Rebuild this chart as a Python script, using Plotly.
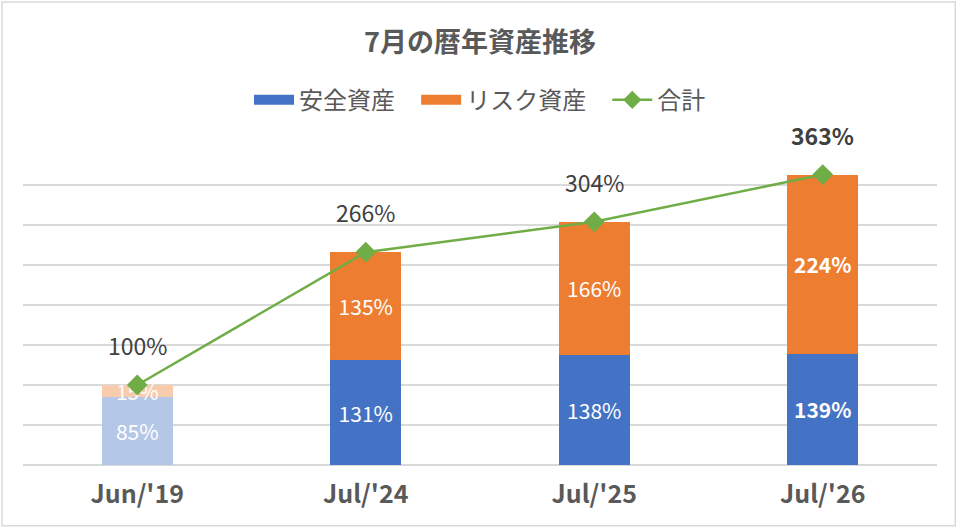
import plotly.graph_objects as go

categories = ["Jun/'19", "Jul/'24", "Jul/'25", "Jul/'26"]
safe = [85, 131, 138, 139]
risk = [15, 135, 166, 224]
total = [100, 266, 304, 363]
bold_safe = [False, False, False, True]
bold_risk = [False, False, False, True]
bold_total = [False, False, False, True]

font = "Noto Sans CJK JP"
gray = "#595959"
pad = "\u00a0\u00a0\u00a0"

def lbl(v, b):
    s = f"{v}%"
    return f"<b>{s}</b>" if b else s

fig = go.Figure()

fig.add_trace(go.Bar(
    x=categories, y=safe, name="安全資産", showlegend=False,
    marker=dict(color=["#B4C7E7", "#4472C4", "#4472C4", "#4472C4"], line_width=0),
    text=[lbl(v, b) for v, b in zip(safe, bold_safe)],
    textposition="inside", insidetextanchor="middle", constraintext="none",
    textfont=dict(color="white", size=21, family=font),
    hoverinfo="skip",
))
fig.add_trace(go.Bar(
    x=categories, y=risk, name="リスク資産", showlegend=False,
    marker=dict(color=["#F8CBAD", "#ED7D31", "#ED7D31", "#ED7D31"], line_width=0),
    text=[lbl(v, b) for v, b in zip(risk, bold_risk)],
    textposition="inside", insidetextanchor="middle", constraintext="none",
    textfont=dict(color="white", size=21, family=font),
    hoverinfo="skip",
))
fig.add_trace(go.Scatter(
    x=categories, y=total, name="合計", mode="lines+markers",
    line=dict(color="#70AD47", width=2.5),
    marker=dict(symbol="diamond", size=16, color="#70AD47"),
    showlegend=False,
))

# legend entries
fig.add_trace(go.Scatter(x=[None], y=[None], mode="lines", name="安全資産" + pad,
                         line=dict(color="#4472C4", width=11)))
fig.add_trace(go.Scatter(x=[None], y=[None], mode="lines", name="リスク資産" + pad,
                         line=dict(color="#ED7D31", width=11)))
fig.add_trace(go.Scatter(x=[None], y=[None], mode="lines+markers", name="合計",
                         line=dict(color="#70AD47", width=2.5),
                         marker=dict(symbol="diamond", size=14, color="#70AD47")))

for c, t, b in zip(categories, total, bold_total):
    fig.add_annotation(x=c, y=t, text=lbl(t, b), showarrow=False, yshift=40,
                       font=dict(size=23, color="#404040", family=font))

fig.add_shape(type="rect", xref="paper", yref="paper",
              x0=-0.023, x1=1.02, y0=-0.19, y1=1.447,
              line=dict(color="#D9D9D9", width=1.5), layer="below")

fig.update_layout(
    width=960, height=527,
    margin=dict(l=23, r=23, t=145, b=62, autoexpand=False),
    paper_bgcolor="white", plot_bgcolor="white",
    barmode="stack", bargap=0.69,
    font=dict(family=font, color=gray),
    title=dict(text="<b>7月の暦年資産推移</b>", x=0.5, xanchor="center",
               y=0.92, yanchor="middle", font=dict(size=27, color=gray)),
    legend=dict(orientation="h", x=0.5, xanchor="center", y=1.14, yanchor="middle",
                font=dict(size=24, color=gray), itemwidth=40,
                traceorder="normal"),
    xaxis=dict(tickfont=dict(size=25, color=gray), ticks="", showline=False,
               tickprefix="<b>", ticksuffix="</b>", ticklabelstandoff=12),
    yaxis=dict(range=[0, 400], dtick=50, showticklabels=False,
               gridcolor="#D9D9D9", gridwidth=1.5, zeroline=True,
               zerolinecolor="#D9D9D9", zerolinewidth=1.5),
)

fig.write_html("out.html", config={"displayModeBar": False},
               post_script="document.body.style.margin='0';")
